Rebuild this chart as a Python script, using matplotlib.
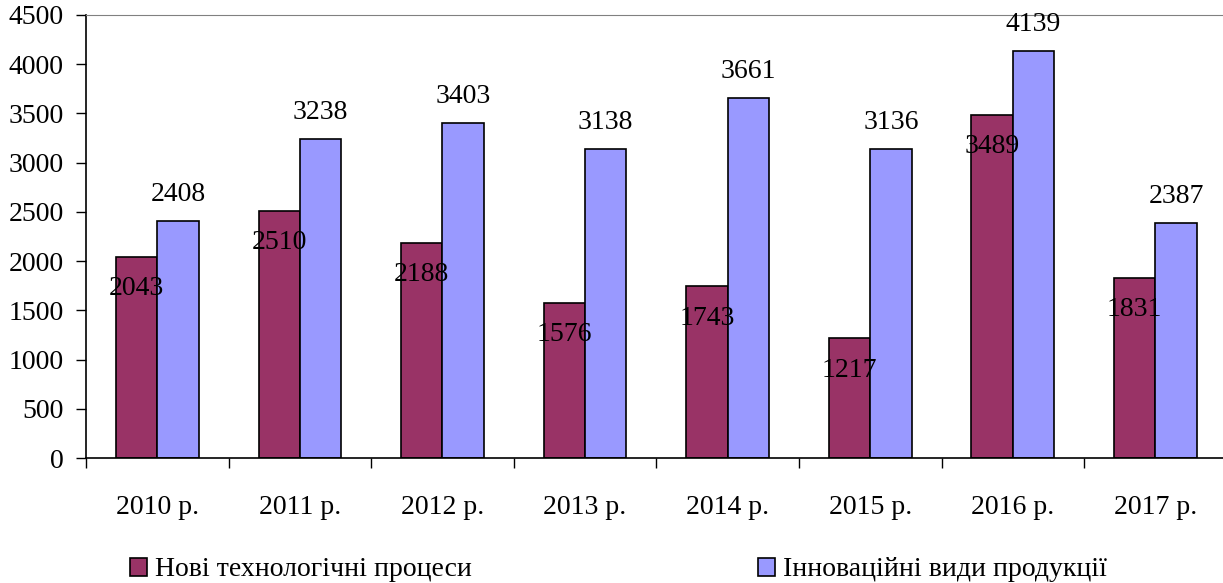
import matplotlib.pyplot as plt
import numpy as np

plt.rcParams['font.family'] = ['Liberation Serif', 'DejaVu Serif']

years = ['2010 р.', '2011 р.', '2012 р.', '2013 р.', '2014 р.', '2015 р.', '2016 р.', '2017 р.']
new_processes = [2043, 2510, 2188, 1576, 1743, 1217, 3489, 1831]
innov_products = [2408, 3238, 3403, 3138, 3661, 3136, 4139, 2387]
series_names = ['Нові технологічні процеси', 'Інноваційні види продукції']

c_maroon = '#993366'
c_blue = '#9999FF'

fig = plt.figure(figsize=(12.23, 5.83), dpi=100)
ax = fig.add_axes([86 / 1223, 1 - 458 / 583, 1 - 86 / 1223 + 0.003, 443 / 583])

x = np.arange(len(years))
w = 0.29
b1 = ax.bar(x - w / 2, new_processes, w, color=c_maroon, edgecolor='black', linewidth=1.2, label=series_names[0])
b2 = ax.bar(x + w / 2, innov_products, w, color=c_blue, edgecolor='black', linewidth=1.2, label=series_names[1])

for rect, v in zip(b1, new_processes):
    ax.annotate(str(v), (rect.get_x() + rect.get_width() / 2, v), xytext=(0, -23),
                textcoords='offset points', ha='center', va='center', fontsize=20)
for rect, v in zip(b2, innov_products):
    ax.annotate(str(v), (rect.get_x() + rect.get_width() / 2, v), xytext=(0, 19),
                textcoords='offset points', ha='center', va='center', fontsize=20)

ax.set_xlim(-0.5, len(years) - 0.5)
ax.set_ylim(0, 4500)
ax.set_yticks(range(0, 4501, 500))
ax.tick_params(axis='y', labelsize=20, length=7, width=1, direction='out', pad=9)

ax.set_xticks(x)
ax.set_xticklabels(years)
ax.tick_params(axis='x', labelsize=20, length=0, pad=27)
ax.set_xticks(np.arange(-0.5, len(years), 1), minor=True)
ax.tick_params(axis='x', which='minor', length=7, width=1, direction='out')

ax.spines['right'].set_visible(False)
ax.spines['top'].set_color('#808080')
ax.spines['left'].set_linewidth(1.2)
ax.spines['bottom'].set_linewidth(1.2)

fig.legend(handles=[b1, b2], labels=series_names, loc='lower left',
           bbox_to_anchor=(0.086, -0.042), ncol=2, frameon=False, fontsize=20,
           handlelength=0.6, handleheight=0.6, handletextpad=0.3, columnspacing=10.3)

fig.savefig('out.png', dpi=100)
